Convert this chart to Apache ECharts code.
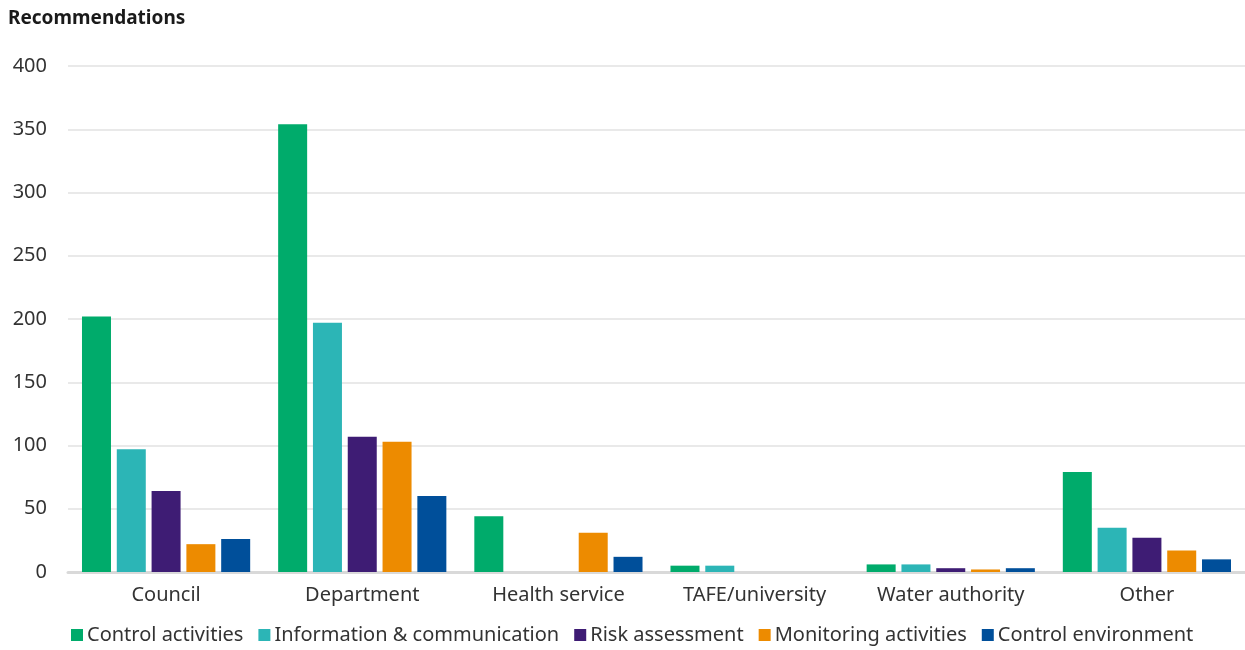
<!DOCTYPE html>
<html>
<head>
<meta charset="utf-8">
<script src="https://cdn.jsdelivr.net/npm/echarts@6/dist/echarts.min.js"></script>
<style>
  html, body { margin: 0; padding: 0; background: #fff; }
  #chart { width: 1245px; height: 650px; }
</style>
</head>
<body>
<div id="chart"></div>
<script>
// Recommendations by entity type and internal-control component
const categories = ['Council', 'Department', 'Health service', 'TAFE/university', 'Water authority', 'Other'];
const controlActivities = [202, 354, 44, 5, 6, 79];
const infoCommunication = [97, 197, 0, 5, 6, 35];
const riskAssessment = [64, 107, 0, 0, 3, 27];
const monitoringActivities = [22, 103, 31, 0, 2, 17];
const controlEnvironment = [26, 60, 12, 0, 3, 10];

const seriesDefs = [
  { name: 'Control activities', data: controlActivities, color: '#00AB6B' },
  { name: 'Information & communication', data: infoCommunication, color: '#2CB5B6' },
  { name: 'Risk assessment', data: riskAssessment, color: '#3E1C74' },
  { name: 'Monitoring activities', data: monitoringActivities, color: '#ED8B00' },
  { name: 'Control environment', data: controlEnvironment, color: '#004F9A' }
];

const FONT = '"Noto Sans", "Open Sans", sans-serif';
const chart = echarts.init(document.getElementById('chart'));

chart.setOption({
  animation: false,
  textStyle: { fontFamily: FONT },
  title: {
    text: 'Recommendations',
    left: 3,
    top: 4,
    textStyle: { fontFamily: FONT, fontSize: 19, fontWeight: 'bold', color: '#1a1a1a' }
  },
  legend: {
    left: 66,
    top: 620,
    itemWidth: 12,
    itemHeight: 12,
    itemGap: 15,
    icon: 'rect',
    textStyle: { fontFamily: FONT, fontSize: 20, color: '#333', padding: [0, 0, 0, -1] }
  },
  grid: { left: 68, right: 0, top: 66, bottom: 78 },
  xAxis: {
    type: 'category',
    data: categories,
    axisLine: { lineStyle: { color: '#d9d9d9', width: 3 } },
    axisTick: { show: false },
    axisLabel: { fontFamily: FONT, fontSize: 20, color: '#333', margin: 13 }
  },
  yAxis: {
    type: 'value',
    min: 0,
    max: 400,
    interval: 50,
    axisLine: { show: false },
    axisTick: { show: false },
    splitLine: { lineStyle: { color: '#e2e2e2', width: 1.5 } },
    axisLabel: { fontFamily: FONT, fontSize: 20, color: '#333', margin: 21 }
  },
  series: seriesDefs.map(s => ({
    name: s.name,
    type: 'bar',
    data: s.data,
    barWidth: 29,
    barGap: '20%',
    itemStyle: { color: s.color }
  }))
});
</script>
</body>
</html>
